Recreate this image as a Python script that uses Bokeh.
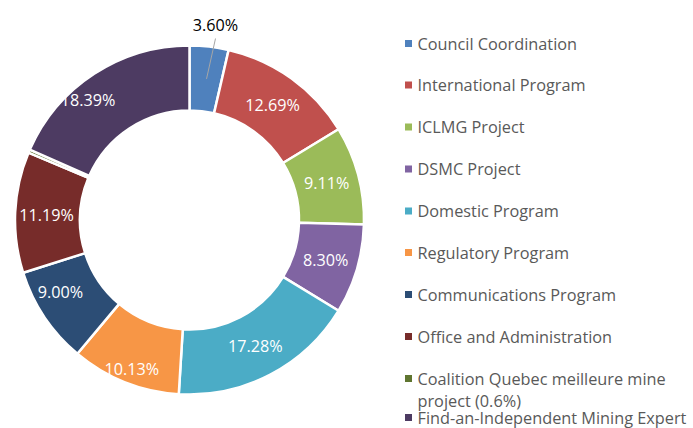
import math
from bokeh.plotting import figure
from bokeh.models import Range1d, ColumnDataSource
from bokeh.core.properties import value
from bokeh.embed import file_html
from bokeh.resources import INLINE

categories = ["Council Coordination", "International Program", "ICLMG Project", "DSMC Project",
              "Domestic Program", "Regulatory Program", "Communications Program",
              "Office and Administration", "Coalition Quebec meilleure mine\nproject (0.6%)",
              "Find-an-Independent Mining Expert"]
values = [3.60, 12.69, 9.11, 8.30, 17.28, 10.13, 9.00, 11.19, 0.31, 18.39]
labels = ["3.60%", "12.69%", "9.11%", "8.30%", "17.28%", "10.13%", "9.00%", "11.19%", "", "18.39%"]
colors = ["#4F81BD", "#C0504D", "#9BBB59", "#8064A2", "#4BACC6", "#F79646",
          "#2C4D75", "#772C2A", "#5F7530", "#4D3B62"]

# label placement nudges (layout only, in screen px)
label_nudge = [(0, 0), (0, 0), (0, 0), (0, 0), (0, 0), (-5, 17), (-11, -7), (-1, 1), (0, 0), (-24, -1)]

W, H = 693, 428
p = figure(width=W, height=H, output_backend="svg", toolbar_location=None,
           x_range=Range1d(0, W), y_range=Range1d(0, H), min_border=0)
p.axis.visible = False
p.grid.visible = False
p.outline_line_color = None
p.background_fill_color = "white"


def Y(py):
    return H - py


cx, cy = 189, Y(219.5)
R_out, R_in = 174.5, 109.5
total = sum(values)
starts, ends, mids = [], [], []
acc = 0.0
for v in values:
    a0 = math.pi / 2 - 2 * math.pi * acc / total
    acc += v
    a1 = math.pi / 2 - 2 * math.pi * acc / total
    starts.append(a0)
    ends.append(a1)
    mids.append((a0 + a1) / 2)

src = ColumnDataSource(dict(start=starts, end=ends, color=colors))
p.annular_wedge(x=cx, y=cy, inner_radius=R_in, outer_radius=R_out, start_angle="start",
                end_angle="end", direction="clock", fill_color="color", line_color="white",
                line_width=2.5, source=src)

font = value("Open Sans")
r_lab = 142
lx, ly, lt = [], [], []
for i, (lab, m) in enumerate(zip(labels, mids)):
    if not lab or i == 0:
        continue
    dx, dy = label_nudge[i]
    lx.append(cx + r_lab * math.cos(m) + dx)
    ly.append(cy + r_lab * math.sin(m) - dy)
    lt.append(lab)
p.text(x=lx, y=ly, text=lt, text_color="white", text_font=font, text_font_size="16.2px",
       text_align="center", text_baseline="middle")

# outside label for first slice with leader line
m0 = mids[0]
p.segment(x0=[cx + 142 * math.cos(m0) + 1], y0=[cy + 142 * math.sin(m0)],
          x1=[215], y1=[Y(38)], line_color="#A6A6A6", line_width=1)
p.text(x=[215], y=[Y(24)], text=[labels[0]], text_color="black", text_font=font,
       text_font_size="16.2px", text_align="center", text_baseline="middle")

# legend
leg_y = [43, 84.5, 126.5, 168.5, 210.5, 252, 294, 336, 378, 417]
for name, col, yy in zip(categories, colors, leg_y):
    p.scatter(x=[408], y=[Y(yy)], marker="square", size=7, fill_color=col, line_color=None)
    lines = name.split("\n")
    for i, ln in enumerate(lines):
        p.text(x=[417], y=[Y(yy + i * 22)], text=[ln], text_color="#595959", text_font=font,
               text_font_size="16.3px", text_align="left", text_baseline="middle")

open("out.html", "w").write(file_html(p, INLINE))
